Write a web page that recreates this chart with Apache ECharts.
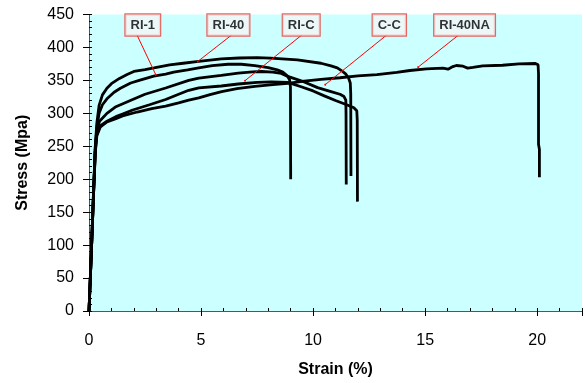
<!DOCTYPE html>
<html>
<head>
<meta charset="utf-8">
<script src="https://cdn.jsdelivr.net/npm/echarts@6/dist/echarts.min.js"></script>
<style>html,body{margin:0;padding:0;background:#fff}#c{width:585px;height:383px}</style>
</head>
<body>
<div id="c"></div>
<script>
// ---- data: [strain (%), stress (MPa)] ----
const ri40 = [[0,0],[0.1,85],[0.2,180],[0.28,250],[0.35,285],[0.45,312],[0.6,328],[0.8,338],[1.0,345],[1.36,353],[1.7,359],[2.0,363.5],[2.5,366.5],[2.9,369],[3.6,373.5],[4.2,376],[4.8,378.5],[5.9,382.5],[6.7,384],[7.5,384.5],[8.1,383.7],[9.3,381],[10.35,376],[10.8,372],[11.08,369],[11.3,364],[11.45,360],[11.58,354],[11.66,346],[11.68,330],[11.69,205]];
const ri1 = [[0,0],[0.1,85],[0.2,178],[0.28,248],[0.35,278],[0.45,300],[0.6,313],[0.8,322],[1.12,332],[1.4,338],[1.86,346],[2.24,350],[2.89,356.5],[3.42,359.5],[3.78,362.5],[4.4,366],[4.9,369],[5.5,372.5],[6.2,374.5],[6.8,374.5],[7.4,372.5],[8.0,369.5],[8.4,366],[8.65,362.5],[8.85,357],[8.95,351],[8.99,340],[9.0,200]];
const cc = [[0,0],[0.1,85],[0.2,175],[0.28,245],[0.35,272],[0.47,288],[0.8,300],[1.2,310],[1.95,321],[2.5,329],[3.42,338.5],[4.45,350],[4.9,353.5],[5.9,357.5],[6.66,361],[7.3,363],[7.7,363.5],[8.2,362.5],[8.58,360.5],[8.87,356],[9.5,349],[10.2,339],[10.8,333],[11.2,329],[11.38,325.5],[11.46,320],[11.47,300],[11.48,192]];
const riC = [[0,0],[0.1,85],[0.2,175],[0.28,242],[0.35,268],[0.5,281],[0.8,288],[1.2,295],[1.5,299],[1.95,305],[2.7,313],[3.42,321],[4.0,329],[4.45,335],[4.9,338.5],[5.9,341.5],[6.66,344.5],[7.5,347],[8.13,347.6],[8.87,347],[9.5,340],[10.0,334],[10.5,326.5],[11.0,319.5],[11.5,313],[11.82,308.5],[11.95,304],[11.97,290],[11.98,166]];
const ri40na = [[0,0],[0.1,85],[0.2,175],[0.28,240],[0.35,266],[0.5,279],[0.8,287],[1.2,292],[1.5,296],[2.15,302],[2.8,307],[3.42,311],[4.0,316],[4.45,320],[4.9,323.5],[5.4,328.5],[5.92,333],[6.6,337.5],[7.4,341],[8.2,343.5],[8.87,345.5],[9.6,349],[10.35,351.5],[11.2,354],[12.0,357],[12.85,358.6],[13.73,362],[14.32,365],[15.06,367.6],[15.8,368.6],[16.02,367],[16.24,371],[16.39,372.6],[16.69,371.5],[16.9,368.6],[17.13,369.6],[17.57,372],[18.45,373],[19.19,375],[19.92,375.6],[20.04,373.6],[20.06,360],[20.06,253],[20.1,245],[20.1,203]];

// ---- annotations (data coordinates) ----
const labelNames = ['RI-1','RI-40','RI-C','C-C','RI-40NA'];
const labelAt    = [[2.40,434],[6.22,434],[9.47,434],[13.40,434],[16.76,434]];
const leaderFrom = [[2.14,419],[6.37,419],[9.50,419],[13.29,419],[16.46,418]];
const leaderTo   = [[2.98,358.6],[4.85,378.6],[6.96,349.5],[10.54,343.5],[14.69,370.2]];

const xTicks = {min:0, max:22, major:5, minor:1};
const yTicks = {min:0, max:450, major:50, minor:10};

const FONT = '"Liberation Sans", Arial, sans-serif';
const curveStyle = {color:'#000', width:2.8};
function curve(name, data){
  return {name, type:'line', data, showSymbol:false, symbol:'none', lineStyle:curveStyle, itemStyle:{color:'#000'}, z:3, animation:false};
}

const chart = echarts.init(document.getElementById('c'), null, {renderer:'canvas'});
chart.setOption({
  animation:false,
  grid:{left:89, top:14.5, width:498, height:298.5, show:true, backgroundColor:'#ccffff', borderWidth:0},
  xAxis:[
    {type:'value', min:xTicks.min, max:xTicks.max, interval:xTicks.major, position:'bottom',
     name:'Strain (%)', nameLocation:'middle', nameGap:51,
     nameTextStyle:{fontFamily:FONT, fontWeight:'bold', fontSize:16, color:'#000'},
     axisLine:{show:true, lineStyle:{color:'#555', width:1}},
     axisTick:{show:true, inside:false, length:5, lineStyle:{color:'#000'}},
     axisLabel:{fontFamily:FONT, fontSize:16, color:'#000', margin:22,
       formatter:v => (v % 5 === 0 && v <= 20) ? String(v) : ''},
     splitLine:{show:false}},
    {type:'value', min:xTicks.min, max:xTicks.max, interval:xTicks.minor, position:'bottom',
     axisLine:{show:false}, axisLabel:{show:false}, splitLine:{show:false},
     axisTick:{show:true, inside:true, length:3, lineStyle:{color:'#000'}}}
  ],
  yAxis:[
    {type:'value', min:yTicks.min, max:yTicks.max, interval:yTicks.major, position:'left',
     name:'Stress (Mpa)', nameLocation:'middle', nameGap:58, nameRotate:90,
     nameTextStyle:{fontFamily:FONT, fontWeight:'bold', fontSize:16, color:'#000'},
     axisLine:{show:true, lineStyle:{color:'#555', width:1}},
     axisTick:{show:true, inside:false, length:6, lineStyle:{color:'#000'}},
     axisLabel:{fontFamily:FONT, fontSize:16, color:'#000', margin:15},
     splitLine:{show:false}},
    {type:'value', min:yTicks.min, max:yTicks.max, interval:yTicks.minor, position:'left',
     axisLine:{show:false}, axisLabel:{show:false}, splitLine:{show:false},
     axisTick:{show:true, inside:true, length:3, lineStyle:{color:'#000'}}}
  ],
  series:[
    curve('RI-40', ri40),
    curve('RI-1', ri1),
    curve('C-C', cc),
    curve('RI-C', riC),
    curve('RI-40NA', ri40na),
    {type:'lines', coordinateSystem:'cartesian2d', xAxisIndex:0, yAxisIndex:0, z:4,
     symbol:['none','circle'], symbolSize:2,
     lineStyle:{color:'#ff0000', width:1, opacity:1},
     data: leaderFrom.map((p,i)=>({coords:[p, leaderTo[i]]}))},
    {type:'scatter', xAxisIndex:0, yAxisIndex:0, symbolSize:0, z:5,
     data: labelNames.map((n,i)=>({name:n, value:labelAt[i]})),
     label:{show:true, position:'inside', formatter:p=>p.name,
       fontFamily:FONT, fontWeight:'bold', fontSize:13, color:'#000',
       backgroundColor:'#f4f6f6', borderColor:'#e8403a', borderWidth:1.2,
       padding:[4,5,4,5]}}
  ]
});
</script>
</body>
</html>
